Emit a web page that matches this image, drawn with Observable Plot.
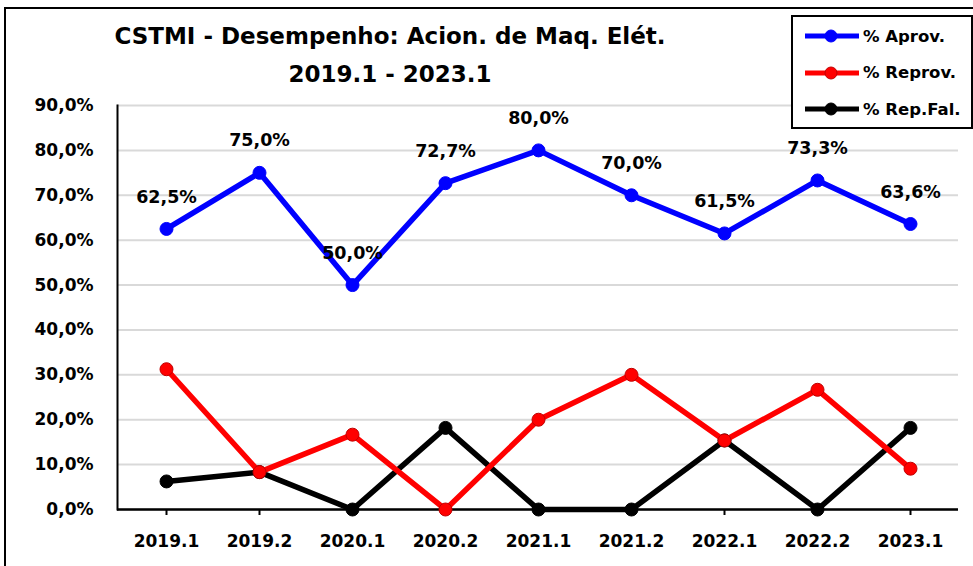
<!DOCTYPE html>
<html><head><meta charset="utf-8">
<script src="https://cdn.jsdelivr.net/npm/d3@7"></script>
<script src="https://cdn.jsdelivr.net/npm/@observablehq/plot@0.6"></script>
<style>
body{margin:0;background:#fff;font-family:"DejaVu Sans",sans-serif;}
#wrap{position:relative;width:973px;height:566px;overflow:hidden;background:#fff}
#border{position:absolute;left:4px;top:7px;width:1000px;height:600px;border:2px solid #000;box-sizing:border-box}
#chart{position:absolute;left:0;top:0}
.title{position:absolute;left:0;width:780px;text-align:center;font-weight:bold;font-size:23px;line-height:23px;color:#000;white-space:nowrap}
#legend{position:absolute;left:791px;top:15px;width:182px;height:114px;border:2px solid #000;box-sizing:border-box;background:#fff}
.li{position:absolute;left:10px;height:24px;display:flex;align-items:center;font-weight:bold;font-size:16.5px;white-space:nowrap}
.li svg{margin-right:2px}
</style></head>
<body>
<div id="wrap">
<div id="border"></div>
<div id="chart"></div>
<div class="title" style="top:25px">CSTMI - Desempenho: Acion. de Maq. Elét.</div>
<div class="title" style="top:63px">2019.1 - 2023.1</div>
<div id="legend"></div>
</div>
<script>
const categories = ["2019.1","2019.2","2020.1","2020.2","2021.1","2021.2","2022.1","2022.2","2023.1"];
const aprov  = [62.5, 75.0, 50.0, 72.7, 80.0, 70.0, 61.5, 73.3, 63.6];
const reprov = [31.25, 8.33, 16.67, 0, 20.0, 30.0, 15.38, 26.67, 9.09];
const repFal = [6.25, 8.33, 0, 18.18, 0, 0, 15.38, 0, 18.18];
const seriesNames = ["% Aprov.", "% Reprov.", "% Rep.Fal."];
const yTicks = [0,10,20,30,40,50,60,70,80,90];

const colors = {"% Aprov.":"#0000ff","% Reprov.":"#ff0000","% Rep.Fal.":"#000000"};
const strokes = {"% Aprov.":"#0000ff","% Reprov.":"#c00000","% Rep.Fal.":"#000000"};
const fmt = v => v.toFixed(1).replace(".", ",") + "%";

const data = [];
[aprov, reprov, repFal].forEach((arr, s) => arr.forEach((v, i) => data.push({cat: categories[i], v, s: seriesNames[s]})));
const order = ["% Rep.Fal.", "% Reprov.", "% Aprov."];

const marks = [
  Plot.gridY(yTicks, {stroke: "#d9d9d9", strokeOpacity: 1, strokeWidth: 2}),
  Plot.axisY(yTicks, {tickSize: 0, tickPadding: 24, tickFormat: fmt, fontSize: 17, fontWeight: "bold", fill: "#000"}),
  Plot.axisX({tickSize: 6, tickPadding: 19, fontSize: 17, fontWeight: "bold", fill: "#000", stroke: "#000", strokeWidth: 2}),
  Plot.frame({anchor: "left", stroke: "#000", strokeWidth: 2}),
  Plot.ruleY([0], {stroke: "#000", strokeWidth: 2.5}),
];
for (const s of order) {
  const d = data.filter(p => p.s === s);
  marks.push(Plot.line(d, {x: "cat", y: "v", stroke: colors[s], strokeWidth: 5.5}));
  marks.push(Plot.dot(d, {x: "cat", y: "v", r: 6.5, fill: colors[s], stroke: strokes[s], strokeWidth: 1}));
}
marks.push(Plot.text(data.filter(p => p.s === "% Aprov."), {x: "cat", y: "v", text: d => fmt(d.v), dy: -32, fontSize: 17.5, fontWeight: "bold", fill: "#000"}));

const chart = Plot.plot({
  width: 973, height: 566,
  marginLeft: 117, marginRight: 15, marginTop: 105, marginBottom: 57,
  style: {fontFamily: "'DejaVu Sans', sans-serif", background: "transparent", overflow: "visible"},
  x: {type: "point", domain: categories, padding: 0.5, label: null},
  y: {domain: [0, 90], label: null},
  marks
});
document.getElementById("chart").appendChild(chart);

const leg = document.getElementById("legend");
seriesNames.forEach((s, i) => {
  const div = document.createElement("div");
  div.className = "li";
  div.style.top = (7 + i * 36.5) + "px";
  div.innerHTML = `<svg width="58" height="16"><line x1="2" y1="8" x2="56" y2="8" stroke="${colors[s]}" stroke-width="5"/><circle cx="28" cy="8" r="6" fill="${colors[s]}" stroke="${strokes[s]}"/></svg><span>${s}</span>`;
  leg.appendChild(div);
});
</script>
</body></html>
